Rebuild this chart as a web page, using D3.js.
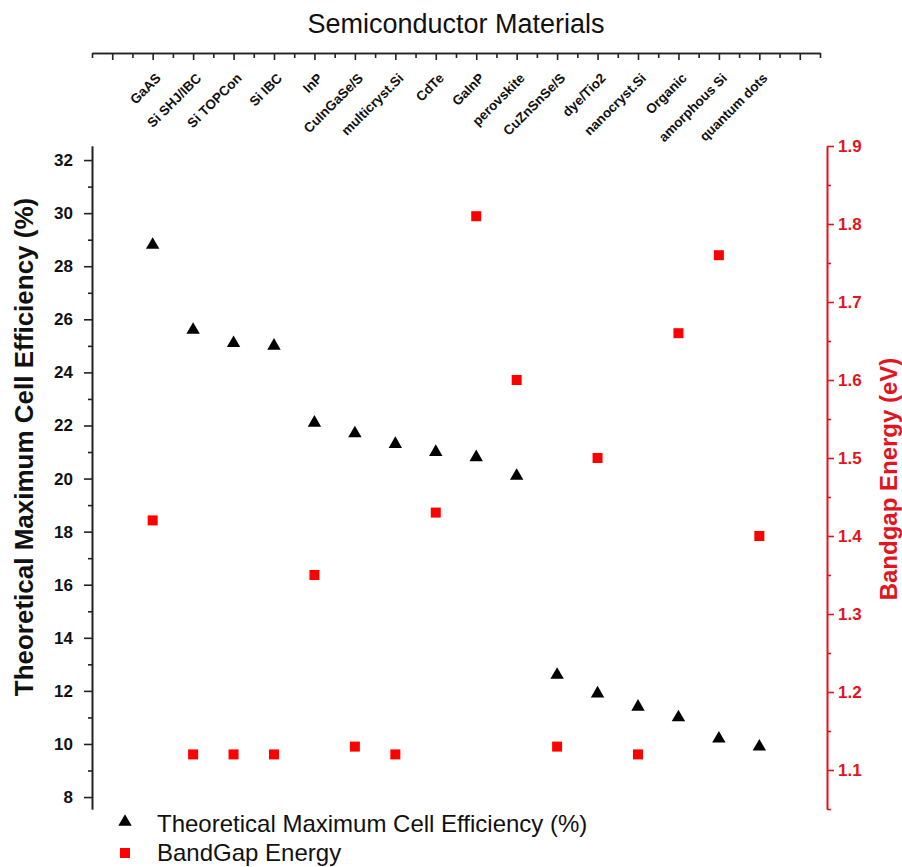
<!DOCTYPE html>
<html>
<head>
<meta charset="utf-8">
<script src="https://cdn.jsdelivr.net/npm/d3@7/dist/d3.min.js"></script>
<style>
  body { margin: 0; background: #fff; }
  svg { display: block; font-family: Arial, "Liberation Sans", sans-serif; }
</style>
</head>
<body>
<script>
// ---- data ----
const categories = ["GaAS", "Si SHJ/IBC", "Si TOPCon", "Si IBC", "InP", "CuInGaSe/S",
  "multicryst.Si", "CdTe", "GaInP", "perovskite", "CuZnSnSe/S", "dye/Tio2",
  "nanocryst.Si", "Organic", "amorphous Si", "quantum dots"];
const efficiency = [28.8, 25.6, 25.1, 25.0, 22.1, 21.7, 21.3, 21.0, 20.8, 20.1,
  12.6, 11.9, 11.4, 11.0, 10.2, 9.9];
const bandgap = [1.42, 1.12, 1.12, 1.12, 1.35, 1.13, 1.12, 1.43, 1.81, 1.60,
  1.13, 1.50, 1.12, 1.66, 1.76, 1.40];
const leftTicks = [8, 10, 12, 14, 16, 18, 20, 22, 24, 26, 28, 30, 32];
const rightTicks = [1.1, 1.2, 1.3, 1.4, 1.5, 1.6, 1.7, 1.8, 1.9];
const seriesNames = ["Theoretical Maximum Cell Efficiency (%)", "BandGap Energy"];

const W = 902, H = 867;
const RED = "#ff0000", AXRED = "#e2141e";
const FONT = "Arial, 'Liberation Sans', sans-serif";
const svg = d3.select("body").append("svg").attr("width", W).attr("height", H);

const x = d3.scaleLinear().domain([-0.5, 17.5]).range([92, 820]);
const yL = d3.scaleLinear().domain([7.55, 32.53]).range([809, 146]);
const yR = d3.scaleLinear().domain([1.05, 1.9]).range([809, 146]);

// title
svg.append("text").attr("x", 456).attr("y", 33).attr("text-anchor", "middle")
  .attr("font-size", 27).attr("fill", "#111").text("Semiconductor Materials");

// top axis
const topY = 53;
const gTopMinor = svg.append("g").attr("transform", `translate(0,${topY})`)
  .call(d3.axisBottom(x).tickValues(d3.range(-0.5, 18, 1)).tickSize(5).tickSizeOuter(0).tickFormat(""));
const gTop = svg.append("g").attr("transform", `translate(0,${topY})`)
  .call(d3.axisBottom(x).tickValues(d3.range(0, 18, 1)).tickSize(7).tickSizeOuter(0).tickFormat(""));
[gTop, gTopMinor].forEach(g => { g.selectAll("line,path").attr("stroke", "#222").attr("stroke-width", 1.6); });

svg.append("g").selectAll("text").data(categories).join("text")
  .attr("transform", (d, i) => `translate(${x(i + 1) + 9},${79}) rotate(-45)`)
  .attr("text-anchor", "end").attr("font-size", 13.5).attr("font-weight", "bold")
  .attr("fill", "#111").text(d => d);

// left axis
const gLMinor = svg.append("g").attr("transform", "translate(92,0)")
  .call(d3.axisLeft(yL).tickValues(d3.range(9, 32, 2)).tickSize(4).tickSizeOuter(0).tickFormat(""));
const gL = svg.append("g").attr("transform", "translate(92,0)")
  .call(d3.axisLeft(yL).tickValues(leftTicks).tickSize(8).tickPadding(11).tickSizeOuter(0));
[gL, gLMinor].forEach(g => g.selectAll("line,path").attr("stroke", "#222").attr("stroke-width", 1.6));
gL.selectAll("text").attr("font-size", 17).attr("font-weight", "bold").attr("fill", "#111")
  .attr("font-family", FONT);

svg.append("text").attr("transform", "translate(33,447) rotate(-90)")
  .attr("text-anchor", "middle").attr("font-size", 26).attr("font-weight", "bold").attr("fill", "#111")
  .text("Theoretical Maximum Cell Efficiency (%)");

// right axis
const rx = 827;
const gRMinor = svg.append("g").attr("transform", `translate(${rx},0)`)
  .call(d3.axisRight(yR).tickValues(d3.range(1.05, 1.9, 0.1)).tickSize(4).tickSizeOuter(0).tickFormat(""));
const gR = svg.append("g").attr("transform", `translate(${rx},0)`)
  .call(d3.axisRight(yR).tickValues(rightTicks).tickSize(7).tickPadding(4).tickSizeOuter(0).tickFormat(d3.format(".1f")));
[gR, gRMinor].forEach(g => g.selectAll("line,path").attr("stroke", AXRED).attr("stroke-width", 1.6));
gR.selectAll("text").attr("font-size", 17).attr("font-weight", "bold").attr("fill", AXRED)
  .attr("font-family", FONT);

svg.append("text").attr("transform", "translate(897,479) rotate(-90)")
  .attr("text-anchor", "middle").attr("font-size", 24).attr("font-weight", "bold").attr("fill", AXRED)
  .text("Bandgap Energy (eV)");

// marks
const tri = d3.symbol().type(d3.symbolTriangle).size(78);
const sq = d3.symbol().type(d3.symbolSquare).size(100);

svg.append("g").selectAll("path").data(bandgap).join("path")
  .attr("d", sq).attr("transform", (d, i) => `translate(${x(i + 1)},${yR(d)})`).attr("fill", RED);
svg.append("g").selectAll("path").data(efficiency).join("path")
  .attr("d", tri).attr("transform", (d, i) => `translate(${x(i + 1)},${yL(d)})`).attr("fill", "#000");

// legend
const leg = svg.append("g");
leg.append("path").attr("d", tri).attr("transform", "translate(125,822)").attr("fill", "#000");
leg.append("path").attr("d", sq).attr("transform", "translate(125,853)").attr("fill", RED);
leg.append("text").attr("x", 157).attr("y", 832).attr("font-size", 24).attr("fill", "#111").text(seriesNames[0]);
leg.append("text").attr("x", 157).attr("y", 861).attr("font-size", 24).attr("fill", "#111").text(seriesNames[1]);
</script>
</body>
</html>
